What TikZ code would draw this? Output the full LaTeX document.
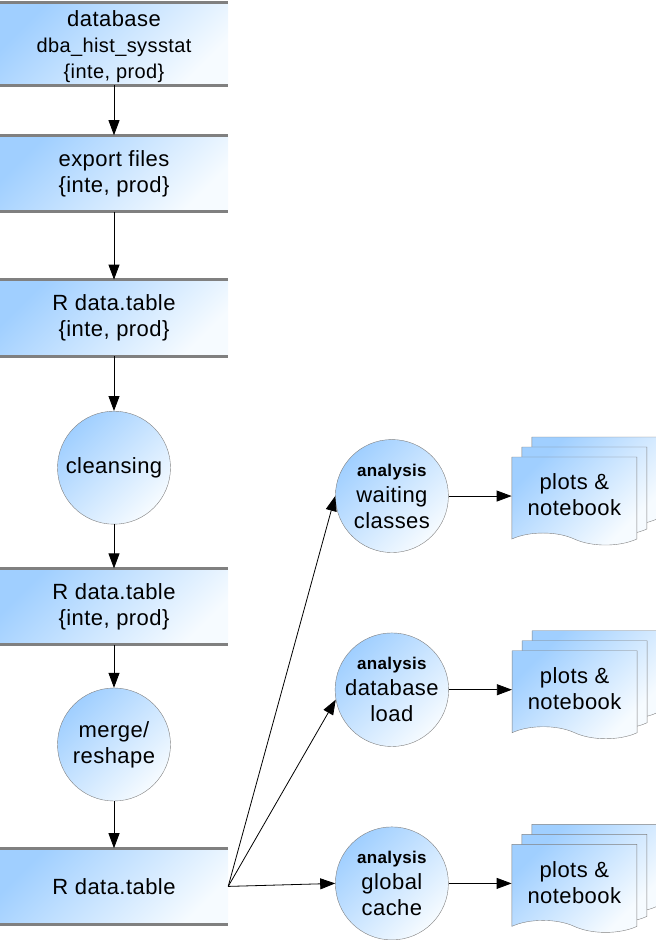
\documentclass[tikz,border=0pt]{standalone}
\usepackage{fontspec}
\setmainfont[LetterSpace=2]{Liberation Sans}
\usetikzlibrary{positioning, shapes.symbols, arrows.meta, backgrounds}

\definecolor{flowblue}{RGB}{160,207,255}
\definecolor{flowpale}{RGB}{246,251,255}
\definecolor{flowgray}{RGB}{128,128,128}

\begin{document}
\begin{tikzpicture}[
    txt/.style={font=\fontsize{22}{26}\selectfont, align=center},
    shadeblue/.style={top color=flowblue, bottom color=flowpale, shading angle=45},
    storeline/.style={draw=flowgray, line width=3pt},
    store/.style={
      shadeblue, txt, inner sep=0pt,
      minimum width=228pt, minimum height=76pt,
      append after command={
        (\tikzlastnode.north west) edge[storeline] (\tikzlastnode.north east)
        (\tikzlastnode.south west) edge[storeline] (\tikzlastnode.south east)}
    },
    process/.style={
      circle, shadeblue, draw=flowgray, txt, inner sep=0pt, minimum size=113pt
    },
    report/.style={
      tape, tape bend top=none, tape bend bottom=out and in, tape bend height=12pt,
      shadeblue, draw=flowgray, txt, inner sep=0pt,
      minimum width=125pt, minimum height=88pt
    },
    flow/.style={-{Triangle[length=15pt, width=11pt]}, line width=0.8pt},
  ]
  \useasboundingbox (0,0) rectangle (656pt,-940pt);

  % left column
  \node[store, minimum height=82pt] (db) at (114pt,-44pt)
    {\\[-5pt]database\\{\fontsize{20}{23}\selectfont dba\_hist\_sysstat}\\{\fontsize{20}{23}\selectfont \{inte, prod\}}};
  \node[store, below=50pt of db] (exp) {export files\\\{inte, prod\}};
  \node[store, below=68pt of exp] (raw) {R data.table\\\{inte, prod\}};
  \node[process, below=55pt of raw] (clean) {cleansing};
  \node[store, below=44pt of clean] (cln) {R data.table\\\{inte, prod\}};
  \node[process, below=43pt of cln] (merge) {merge/\\reshape};
  \node[store, below=47pt of merge] (tab) {R data.table};

  % analyses
  \node[process, right=107pt of tab, yshift=3pt] (glob)
    {{\bfseries\fontsize{17}{20}\selectfont analysis}\\global\\cache};
  \node[process, above=80pt of glob] (load)
    {{\bfseries\fontsize{17}{20}\selectfont analysis}\\database\\load};
  \node[process, above=80pt of load] (wait)
    {{\bfseries\fontsize{17}{20}\selectfont analysis}\\waiting\\classes};

  % reports
  \node[report, right=63pt of wait.east, yshift=1pt] (rep1) {plots \&\\notebook};
  \node[report, right=63pt of load.east, yshift=1pt] (rep2) {plots \&\\notebook};
  \node[report, right=63pt of glob.east, yshift=1pt] (rep3) {plots \&\\notebook};
  \begin{scope}[on background layer]
    \foreach \r in {rep1, rep2, rep3} {
      \node[report] at ([shift={(20pt,20pt)}]\r.center) {};
      \node[report] at ([shift={(10pt,10pt)}]\r.center) {};
    }
  \end{scope}

  % connectors
  \draw[flow] (db) -- (exp);
  \draw[flow] (exp) -- (raw);
  \draw[flow] (raw) -- (clean);
  \draw[flow] (clean) -- (cln);
  \draw[flow] (cln) -- (merge);
  \draw[flow] (merge) -- (tab);
  \draw[flow] (tab.east) -- (wait.west);
  \draw[flow] (tab.east) -- (load.190);
  \draw[flow] (tab.east) -- (glob.west);
  \draw[flow] (wait.east) -- (wait.east -| rep1.west);
  \draw[flow] (load.east) -- (load.east -| rep2.west);
  \draw[flow] (glob.east) -- (glob.east -| rep3.west);
\end{tikzpicture}
\end{document}
